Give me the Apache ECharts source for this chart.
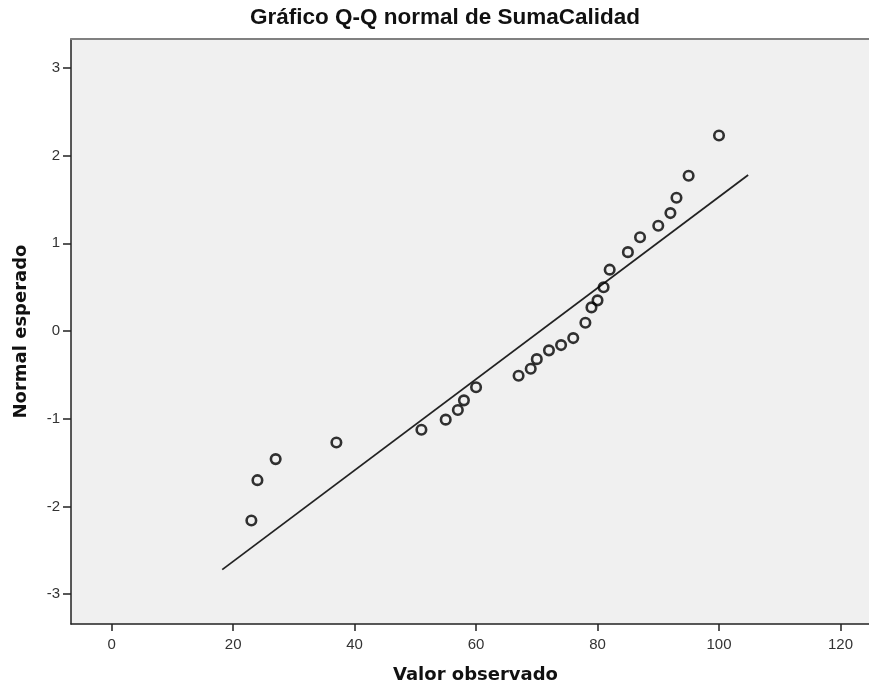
<!DOCTYPE html>
<html>
<head>
<meta charset="utf-8">
<script src="https://cdn.jsdelivr.net/npm/echarts@6/dist/echarts.min.js"></script>
<style>
html,body{margin:0;padding:0;background:#fff;}
#chart{width:869px;height:689px;}
</style>
</head>
<body>
<div id="chart"></div>
<script>
// Observed values (Valor observado)
const observed = [23,24,27,37,51,55,57,58,60,67,69,70,72,74,76,78,79,80,81,82,85,87,90,92,93,95,100];
// Expected normal values (Normal esperado)
const expected = [-2.16,-1.70,-1.46,-1.27,-1.125,-1.01,-0.90,-0.79,-0.64,-0.51,-0.43,-0.32,-0.22,-0.16,-0.08,0.095,0.27,0.35,0.50,0.70,0.90,1.07,1.20,1.345,1.52,1.77,2.23];
// Reference line endpoints
const lineX = [18.2, 104.8];
const lineY = [-2.72, 1.78];
// Tick labels
const xTicks = [0,20,40,60,80,100,120];
const yTicks = [-3,-2,-1,0,1,2,3];

const points = observed.map((v,i)=>[v, expected[i]]);
const linePts = lineX.map((v,i)=>[v, lineY[i]]);

const chart = echarts.init(document.getElementById('chart'));
const font = 'Liberation Sans, Arial, sans-serif';
const boldFont = 'DejaVu Sans, Verdana, sans-serif';
chart.setOption({
  backgroundColor:'#ffffff',
  animation:false,
  title:{
    text:'Gráfico Q-Q normal de SumaCalidad',
    left:440, top:1, textAlign:'center',
    textStyle:{fontFamily:font,fontSize:22.5,fontWeight:'bold',color:'#111'}
  },
  grid:{left:71,right:0,top:39,bottom:64.5,show:true,backgroundColor:'#f0f0f0',borderWidth:0},
  xAxis:[{
    type:'value', min:-6.7, max:124.7,
    name:'Valor observado', nameLocation:'middle', nameGap:42,
    nameTextStyle:{fontFamily:boldFont,fontSize:18,fontWeight:'bold',color:'#111',padding:[0,0,0,11]},
    axisLine:{show:true,onZero:false,lineStyle:{color:'#222',width:1.5}},
    axisTick:{show:true,length:7,customValues:xTicks,lineStyle:{color:'#222',width:1.5}},
    axisLabel:{customValues:xTicks,margin:13,fontFamily:font,fontSize:15,color:'#333'},
    splitLine:{show:false}
  },{
    type:'value', min:-6.7, max:124.7, position:'top',
    axisLine:{show:true,onZero:false,lineStyle:{color:'#808080',width:2}},
    axisTick:{show:false}, axisLabel:{show:false}, splitLine:{show:false}
  }],
  yAxis:{
    type:'value', min:-3.34, max:3.33,
    name:'Normal esperado', nameLocation:'middle', nameGap:41, nameRotate:90,
    nameTextStyle:{fontFamily:boldFont,fontSize:18,fontWeight:'bold',color:'#111'},
    axisLine:{show:true,onZero:false,lineStyle:{color:'#222',width:1.5}},
    axisTick:{show:true,length:8,customValues:yTicks,lineStyle:{color:'#222',width:1.5}},
    axisLabel:{customValues:yTicks,margin:11,fontFamily:font,fontSize:15,color:'#333'},
    splitLine:{show:false}
  },
  series:[{
    type:'line', data:linePts, symbol:'none',
    lineStyle:{color:'#222',width:1.8}, silent:true, z:2
  },{
    type:'scatter', data:points, symbol:'circle', symbolSize:9.5,
    itemStyle:{color:'rgba(0,0,0,0)',borderColor:'#000',borderWidth:2.6}, z:3
  }]
});
</script>
</body>
</html>
